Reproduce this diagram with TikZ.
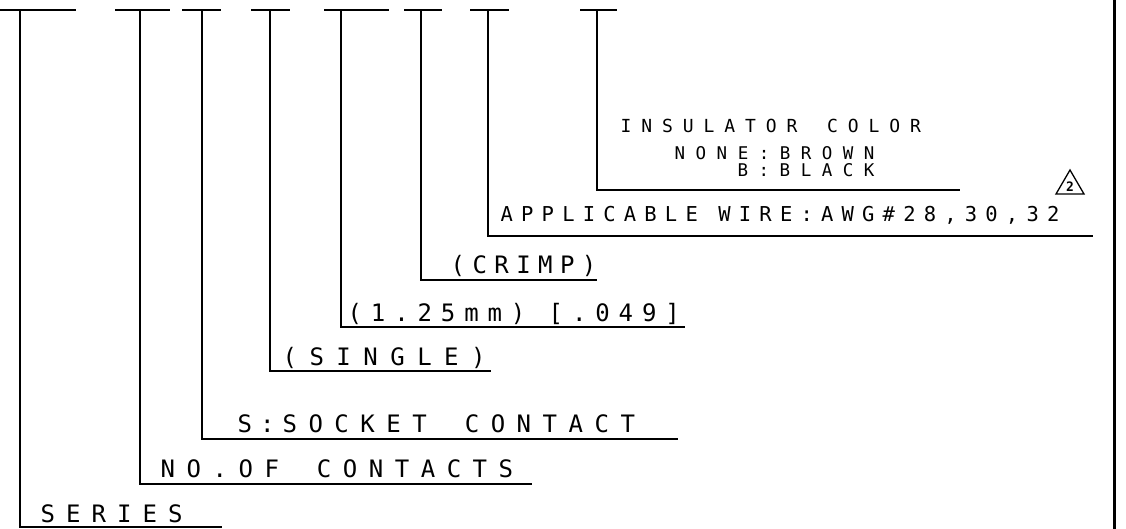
\documentclass[tikz,border=0pt]{standalone}
\usepackage{fontspec}
\usepackage{tikz}
\newfontfamily\plotfont{DejaVu Sans Mono}
\newcommand{\track}[1]{\addfontfeature{LetterSpace=#1}}
\newcommand{\wsp}{\hspace{0.5em}}
\tikzset{
  bigtext/.style={inner sep=0pt, anchor=base west, font=\plotfont\fontsize{24}{24}\selectfont},
  midtext/.style={inner sep=0pt, anchor=base west, font=\plotfont\fontsize{20.5}{20.5}\selectfont},
  smalltext/.style={inner sep=0pt, anchor=base west, font=\plotfont\fontsize{18}{18}\selectfont},
  tinytext/.style={inner sep=0pt, anchor=base west, font=\plotfont\fontsize{17.5}{17.5}\selectfont}
}

\begin{document}
\begin{tikzpicture}[x=1pt, y=-1pt, line width=1.3pt]
    \useasboundingbox (0,0) rectangle (1126,529);

    % draw frame edge
    \draw[line width=3pt] (1114,0) -- (1114,529);

    % draw part number blanks
    \draw (0,10) -- (76,10);
    \draw (115,10) -- (170,10);
    \draw (182,10) -- (221,10);
    \draw (251,10) -- (290,10);
    \draw (324,10) -- (389,10);
    \draw (404,10) -- (442,10);
    \draw (470,10) -- (509,10);
    \draw (580,10) -- (617,10);

    % draw labels
    \node[bigtext] (series) at (40,522) {\track{46}SERIES};
    \node[bigtext] (contacts) at (160,477) {\track{48}NO.OF \wsp CONTACTS};
    \node[bigtext] (socket) at (237,432) {\track{48}S\kern8pt:\kern8pt SOCKET \wsp CONTACT};
    \node[bigtext] (single) at (282,365) {\track{52}(SINGLE)};
    \node[bigtext] (pitch) at (347,321) {\track{37}(1.25mm) [.049]};
    \node[bigtext] (crimp) at (450,273) {\track{31}(CRIMP)};
    \node[midtext] (wire) at (500,222) {\track{40}APPLICABLE WIRE:AWG\#28,30,32};
    \node[smalltext] (insulator) at (620,133) {\track{55}INSULATOR \wsp COLOR};
    \node[tinytext] (brown) at (674,160) {\track{60}NONE:BROWN};
    \node[tinytext] (black) at (737,177) {\track{60}B:BLACK};

    % draw revision mark
    \node[inner sep=0pt, font=\plotfont\bfseries\fontsize{13}{13}\selectfont] (rev) at (1070,187) {2};
    \draw (1056,194) -- (1084,194) -- (1070,170) -- cycle;

    % draw leaders
    \coordinate (seriesTop) at (20,10);
    \coordinate (seriesEnd) at (222,527);
    \draw (seriesTop) |- (seriesEnd);

    \coordinate (contactsTop) at (140,10);
    \coordinate (contactsEnd) at (532,484);
    \draw (contactsTop) |- (contactsEnd);

    \coordinate (socketTop) at (202,10);
    \coordinate (socketEnd) at (678,439);
    \draw (socketTop) |- (socketEnd);

    \coordinate (singleTop) at (270,10);
    \coordinate (singleEnd) at (491,371);
    \draw (singleTop) |- (singleEnd);

    \coordinate (pitchTop) at (341,10);
    \coordinate (pitchEnd) at (685,327);
    \draw (pitchTop) |- (pitchEnd);

    \coordinate (crimpTop) at (421,10);
    \coordinate (crimpEnd) at (597,280);
    \draw (crimpTop) |- (crimpEnd);

    \coordinate (wireTop) at (488,10);
    \coordinate (wireEnd) at (1093,236);
    \draw (wireTop) |- (wireEnd);

    \coordinate (insulatorTop) at (597,10);
    \coordinate (insulatorEnd) at (960,190);
    \draw (insulatorTop) |- (insulatorEnd);

\end{tikzpicture}
\end{document}
